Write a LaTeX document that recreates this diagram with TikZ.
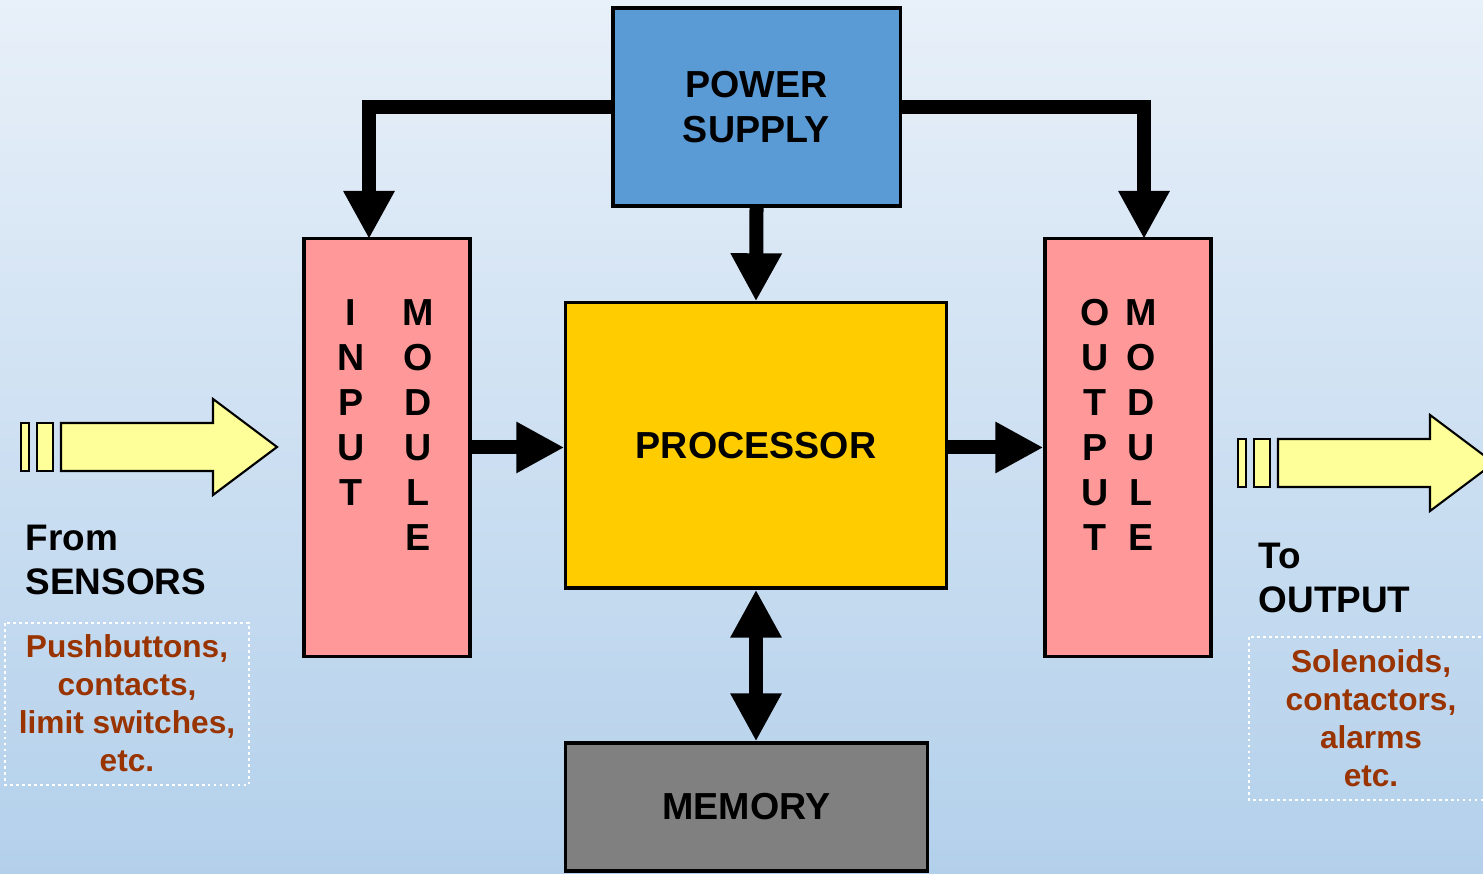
\documentclass[tikz,border=0pt]{standalone}
\usepackage{fontspec}
\setmainfont{Liberation Sans}
\usetikzlibrary{arrows.meta,positioning}
\definecolor{bgtop}{HTML}{E8F0F9}
\definecolor{bgbot}{HTML}{B3D0EB}
\definecolor{psblue}{HTML}{5B9BD5}
\definecolor{modpink}{HTML}{FF9999}
\definecolor{procyel}{HTML}{FFCC00}
\definecolor{memgray}{HTML}{808080}
\definecolor{arryel}{HTML}{FFFF99}
\definecolor{devbrown}{HTML}{993300}
\tikzset{
  blk/.style={draw, line width=0.9pt, inner sep=0pt, align=center,
              font=\bfseries\fontsize{10.7}{12.8}\selectfont},
  modtxt/.style={inner sep=0pt, font=\bfseries\fontsize{10.7}{12.8}\selectfont},
  lbl/.style={inner sep=0pt, align=left,
              font=\bfseries\fontsize{10.5}{12.5}\selectfont},
  dev/.style={inner sep=0pt, align=center, text=devbrown,
              font=\bfseries\fontsize{9}{10.8}\selectfont},
  devbox/.style={draw=white, line width=0.8pt, dash pattern=on 0.8pt off 0.9pt},
  pw/.style={line width=0.14cm, line join=miter,
             -{Triangle[width=0.48cm,length=0.48cm]}},
  pwboth/.style={line width=0.14cm,
             {Triangle[width=0.48cm,length=0.48cm]}-{Triangle[width=0.48cm,length=0.48cm]}},
  yarr/.style={draw, fill=arryel, line width=0.6pt, line join=miter}
}
\begin{document}
\begin{tikzpicture}[x=0.01cm,y=-0.01cm]
\useasboundingbox (0,0) rectangle (1483,874);
\clip (0,0) rectangle (1483,874);
\shade[top color=bgtop, bottom color=bgbot] (0,0) rectangle (1483,874);

% main blocks
\node[blk, fill=psblue, minimum width=2.87cm, minimum height=1.98cm] (ps) at (756.5,107) {POWER\\SUPPLY};
\node[blk, fill=modpink, minimum width=1.66cm, minimum height=4.17cm] (inmod) at (387,447.5) {};
\node[blk, fill=procyel, minimum width=3.80cm, minimum height=2.85cm] (proc) at (756,445.5) {PROCESSOR};
\node[blk, fill=modpink, minimum width=1.66cm, minimum height=4.17cm] (outmod) at (1128,447.5) {};
\node[blk, fill=memgray, minimum width=3.61cm, minimum height=1.28cm] (mem) at (746.5,807) {MEMORY};

% module lettering
\foreach \ch [count=\i from 0] in {I,N,P,U,T}
  \node[modtxt] at (351,{313+45*\i}) {\ch};
\foreach \ch [count=\i from 0] in {M,O,D,U,L,E}
  \node[modtxt] at (418,{313+45*\i}) {\ch};
\foreach \ch [count=\i from 0] in {O,U,T,P,U,T}
  \node[modtxt] at (1095,{313+45*\i}) {\ch};
\foreach \ch [count=\i from 0] in {M,O,D,U,L,E}
  \node[modtxt] at (1141,{313+45*\i}) {\ch};

% power and data paths
\coordinate (inTop) at (369,239);
\coordinate (outTop) at (1144,239);
\draw[pw] (ps.west) -| (inTop);
\draw[pw] (ps.east) -| (outTop);
\draw[pw] (ps.south) -- (proc.north);
\draw[pw] (inmod.east) -- (inmod.east -| proc.west);
\draw[pw] (proc.east |- outmod.west) -- (outmod.west);
\draw[pwboth] (proc.south) -- (proc.south |- mem.north);

% field side
\begin{scope}[shift={(21,447)}]
\draw[yarr] (0,-24) rectangle (8,24);
\draw[yarr] (16,-24) rectangle (32,24);
\draw[yarr] (40,-24) -- (192,-24) -- (192,-48) -- (256,0) -- (192,48) -- (192,24) -- (40,24) -- cycle;
\end{scope}
\begin{scope}[shift={(1238,463)}]
\draw[yarr] (0,-24) rectangle (8,24);
\draw[yarr] (16,-24) rectangle (32,24);
\draw[yarr] (40,-24) -- (192,-24) -- (192,-48) -- (256,0) -- (192,48) -- (192,24) -- (40,24) -- cycle;
\end{scope}

\node[lbl, anchor=west] (from) at (25,560) {From\\SENSORS};
\node[lbl, anchor=west] (to) at (1258,578) {To\\OUTPUT};

\draw[devbox] (5,623) rectangle (249,785);
\node[dev] (sens) at (127,703.5) {Pushbuttons,\\contacts,\\limit switches,\\etc.};
\draw[devbox] (1249,637) rectangle (1495,800);
\node[dev] (acts) at (1371,718.5) {Solenoids,\\contactors,\\alarms\\etc.};
\end{tikzpicture}
\end{document}
